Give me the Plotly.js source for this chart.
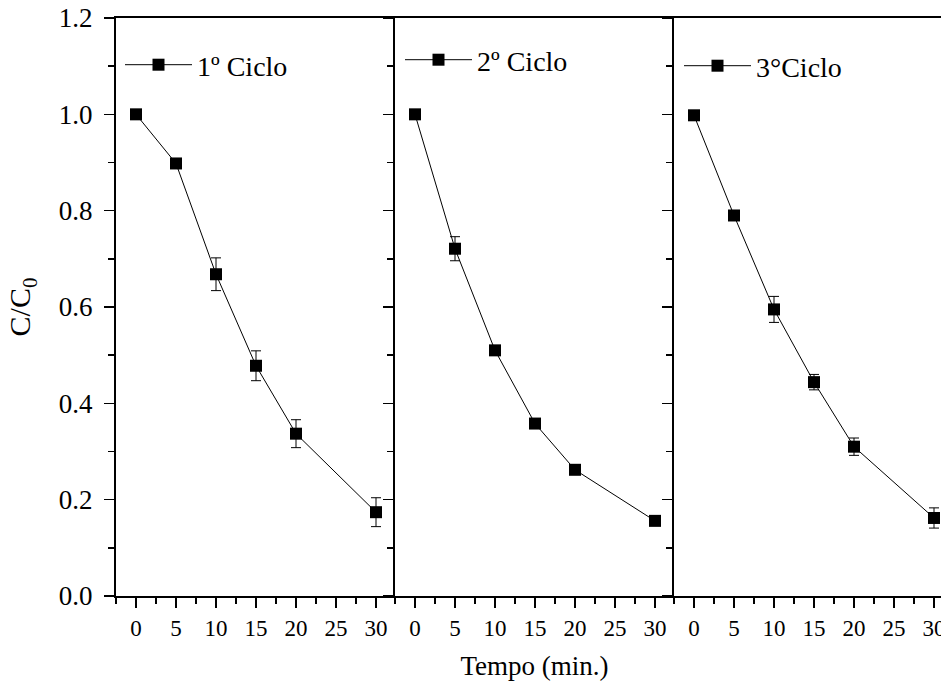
<!DOCTYPE html>
<html>
<head>
<meta charset="utf-8">
<script src="https://cdn.plot.ly/plotly-3.0.1.min.js"></script>
<style>
html, body { margin: 0; padding: 0; overflow: hidden; background: #fff; }
#chart { width: 959px; height: 684px; }
</style>
</head>
<body>
<div id="chart"></div>
<script>
// ---- data ----
const time = [0, 5, 10, 15, 20, 30];
const cycle1 = [1.0, 0.898, 0.668, 0.478, 0.337, 0.174];
const err1   = [0, 0, 0.034, 0.031, 0.029, 0.030];
const cycle2 = [1.0, 0.721, 0.510, 0.358, 0.262, 0.156];
const err2   = [0, 0.025, 0, 0, 0, 0];
const cycle3 = [0.998, 0.790, 0.595, 0.444, 0.310, 0.162];
const err3   = [0, 0, 0.027, 0.016, 0.018, 0.021];
const seriesNames = ['1º Ciclo', '2º Ciclo', '3°Ciclo'];
const xTickVals = [0, 5, 10, 15, 20, 25, 30];
const xTitle = 'Tempo (min.)';
const yTitle = 'C/C<sub>0</sub>';

const FONT = 'Liberation Serif';
const series = [cycle1, cycle2, cycle3];
const errs = [err1, err2, err3];
const axSuffix = ['', '2', '3'];
const legendIds = ['legend', 'legend2', 'legend3'];

const traces = series.map((ys, i) => ({
  x: time,
  y: ys,
  type: 'scatter',
  mode: 'lines+markers',
  name: seriesNames[i],
  xaxis: 'x' + axSuffix[i],
  yaxis: 'y' + axSuffix[i],
  legend: legendIds[i],
  line: { color: '#000', width: 1 },
  marker: { symbol: 'square', size: 12, color: '#000' },
  error_y: { type: 'data', array: errs[i], visible: true, color: '#000', thickness: 1, width: 5 }
}));

function xAxis(domain, withTitle) {
  const ax = {
    domain: domain,
    range: [-2.5, 32.375],
    tickmode: 'array',
    tickvals: xTickVals,
    ticks: 'outside',
    ticklen: 10,
    tickwidth: 1.5,
    tickcolor: '#000',
    minor: { dtick: 2.5, tick0: 0, ticks: 'outside', ticklen: 6, tickwidth: 1.5, tickcolor: '#000', showgrid: false },
    showline: true,
    linewidth: 2,
    linecolor: '#000',
    mirror: true,
    showgrid: false,
    zeroline: false,
    tickfont: { family: FONT, size: 23, color: '#000' },
    fixedrange: true
  };
  if (withTitle) {
    ax.title = { text: xTitle, font: { family: FONT, size: 27, color: '#000' }, standoff: 17 };
  }
  return ax;
}

function yAxis(anchor, labels) {
  const ax = {
    anchor: anchor,
    domain: [0, 1],
    range: [0, 1.2],
    dtick: 0.2,
    tick0: 0,
    tickformat: '.1f',
    ticks: 'outside',
    ticklen: 10,
    tickwidth: 1.5,
    tickcolor: '#000',
    minor: { dtick: 0.1, ticks: 'outside', ticklen: 6, tickwidth: 1.5, tickcolor: '#000', showgrid: false },
    showline: true,
    linewidth: 2,
    linecolor: '#000',
    showgrid: false,
    zeroline: false,
    showticklabels: labels,
    ticklabelstandoff: 6,
    tickfont: { family: FONT, size: 27, color: '#000' },
    fixedrange: true
  };
  if (labels) {
    ax.title = { text: yTitle, font: { family: FONT, size: 30, color: '#000' }, standoff: 19 };
  }
  return ax;
}

function legendAt(xpx, ypx) {
  return {
    x: (xpx - 116) / 837,
    y: (596 - ypx) / 578,
    xref: 'paper', yref: 'paper',
    xanchor: 'left', yanchor: 'middle',
    bgcolor: 'rgba(0,0,0,0)',
    borderwidth: 0,
    font: { family: FONT, size: 28, color: '#000' },
    itemwidth: 67,
    tracegroupgap: 0
  };
}

const layout = {
  width: 959,
  height: 684,
  font: { family: FONT, size: 22, color: '#000' },
  margin: { l: 116, r: 6, t: 18, b: 88, pad: 0 },
  paper_bgcolor: '#fff',
  plot_bgcolor: '#fff',
  showlegend: true,
  xaxis: xAxis([0, 1/3], false),
  xaxis2: xAxis([1/3, 2/3], true),
  xaxis3: xAxis([2/3, 1], false),
  yaxis: yAxis('x', true),
  yaxis2: yAxis('x2', false),
  yaxis3: yAxis('x3', false),
  legend: legendAt(120, 65),
  legend2: legendAt(400, 60),
  legend3: legendAt(679, 66)
};

Plotly.newPlot('chart', traces, layout, { displayModeBar: false, staticPlot: true });
</script>
</body>
</html>
